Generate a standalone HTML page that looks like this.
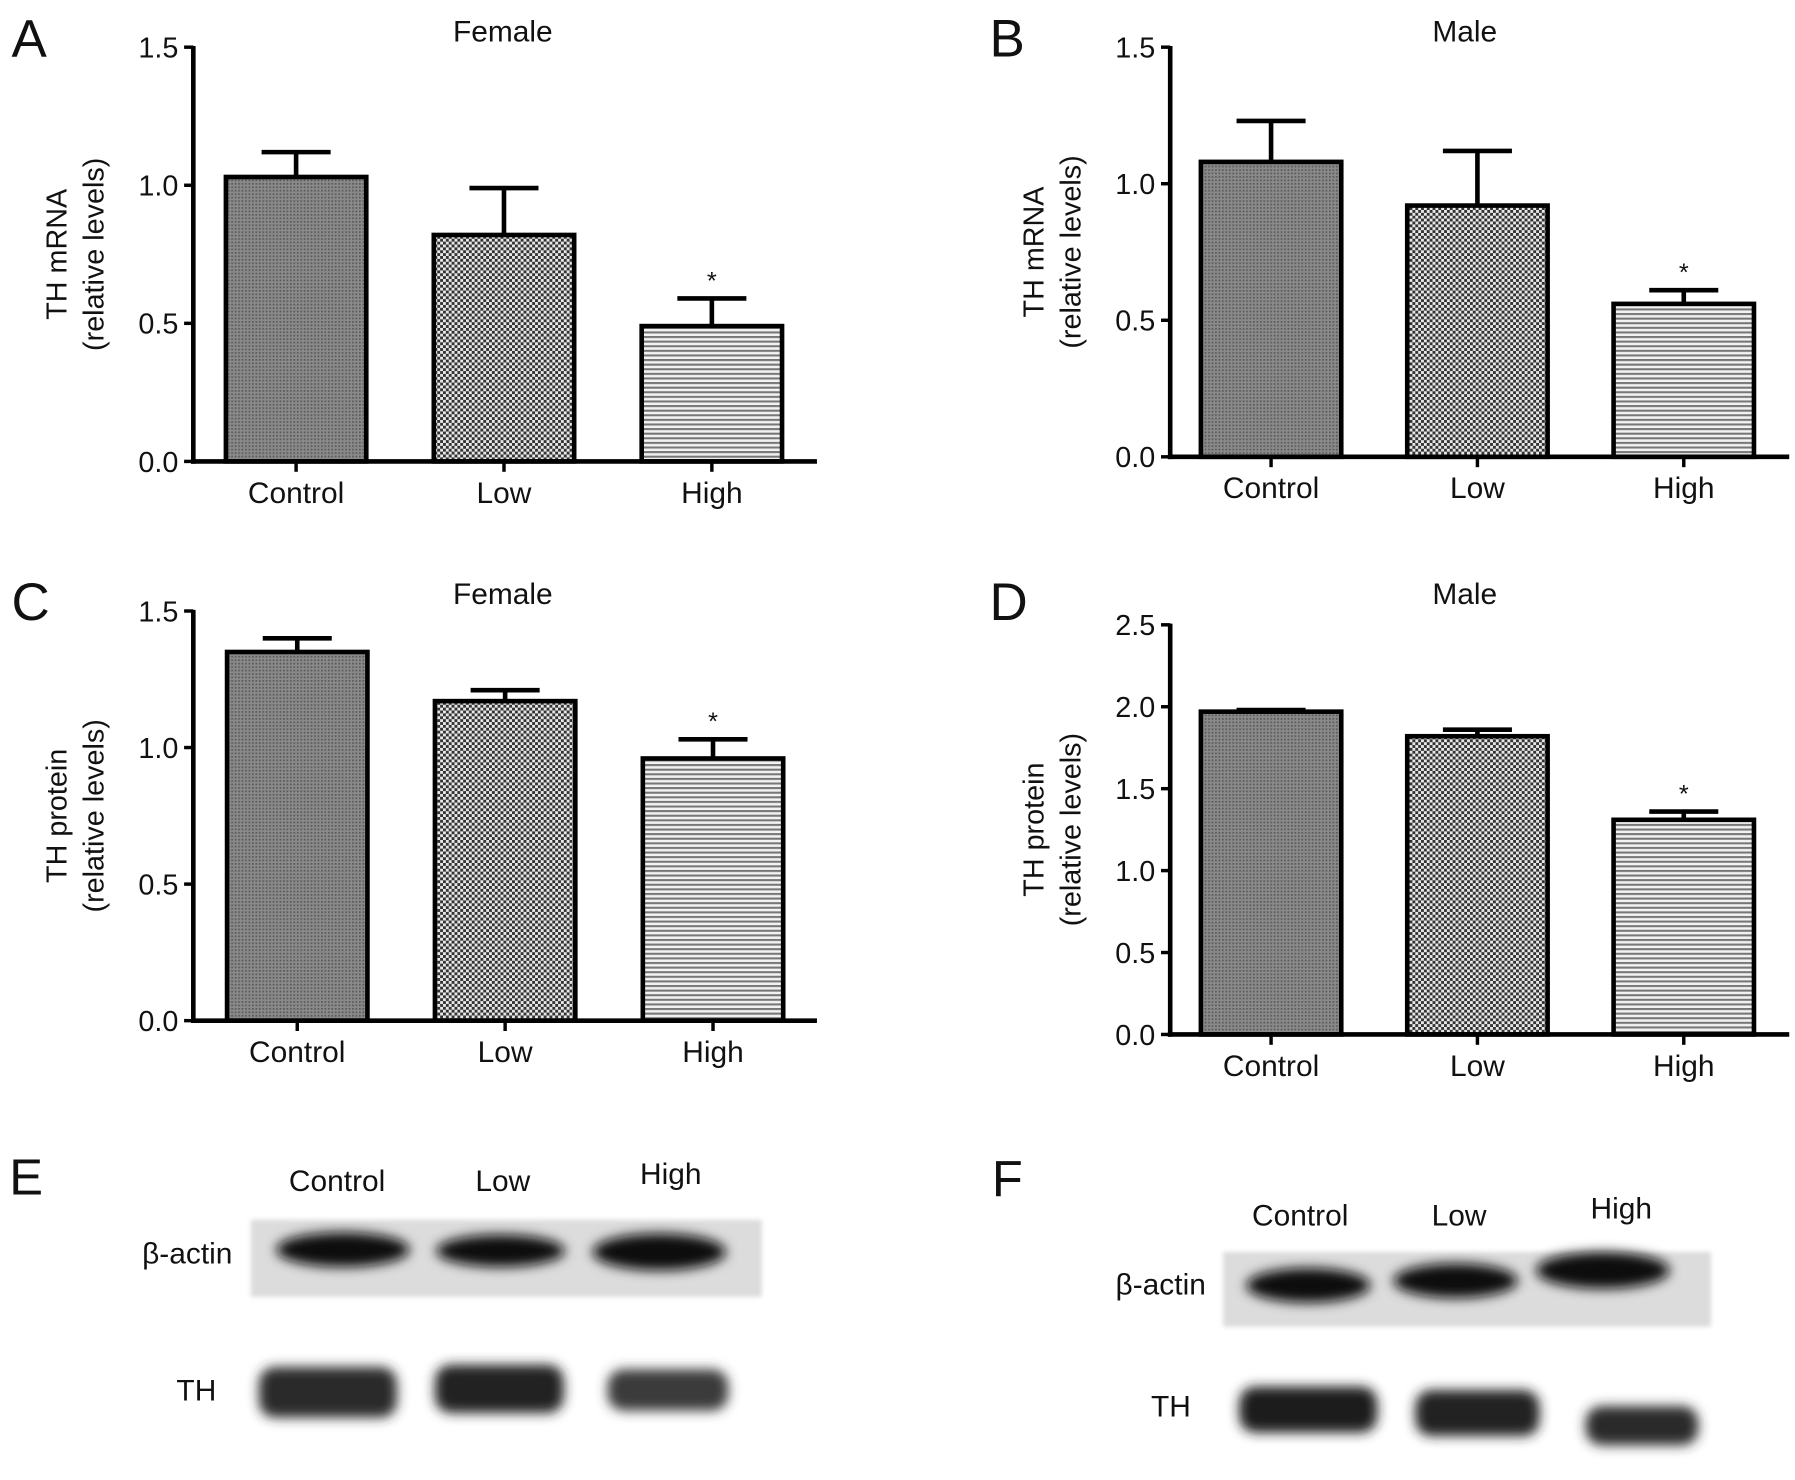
<!DOCTYPE html>
<html><head><meta charset="utf-8"><style>
html,body{margin:0;padding:0;background:#fff}
svg{display:block}
text{font-family:"Liberation Sans",sans-serif;fill:#111}
</style></head><body>
<svg id="fig" width="1795" height="1480" viewBox="0 0 1560 1286.2" preserveAspectRatio="none" xmlns="http://www.w3.org/2000/svg">
<defs>
<pattern id="pCtrl" width="3" height="3" patternUnits="userSpaceOnUse"><rect width="3" height="3" fill="#8a8a8a"/><rect width="1.5" height="1.5" fill="#5a5a5a"/></pattern>
<pattern id="pLow" width="5" height="5" patternUnits="userSpaceOnUse"><rect width="5" height="5" fill="#e8e8e8"/><rect width="2.5" height="2.5" fill="#333"/><rect x="2.5" y="2.5" width="2.5" height="2.5" fill="#333"/></pattern>
<pattern id="pHigh" width="4" height="4" patternUnits="userSpaceOnUse"><rect width="4" height="4" fill="#f2f2f2"/><rect width="4" height="1.8" fill="#777"/></pattern>
<filter id="blur" x="-30%" y="-60%" width="160%" height="220%"><feGaussianBlur stdDeviation="5"/></filter>
<filter id="blur2" x="-10%" y="-30%" width="120%" height="160%"><feGaussianBlur stdDeviation="2"/></filter>
</defs>
<g id="charts"></g>
<g id="blots">
<text x="8" y="1038" font-size="44">E</text>
<text x="293" y="1035" font-size="26" text-anchor="middle">Control</text>
<text x="437" y="1035" font-size="26" text-anchor="middle">Low</text>
<text x="583" y="1029" font-size="26" text-anchor="middle">High</text>
<text x="202" y="1098" font-size="26" text-anchor="end">β-actin</text>
<text x="188" y="1217" font-size="26" text-anchor="end">TH</text>
<rect x="218" y="1060" width="444" height="67" fill="#dcdcdc" filter="url(#blur2)"/>
<g filter="url(#blur)" fill="#111">
<ellipse cx="298" cy="1086" rx="58" ry="15"/><ellipse cx="435" cy="1087" rx="56" ry="14"/><ellipse cx="573" cy="1088" rx="58" ry="16"/>
<rect x="225" y="1188" width="120" height="44" rx="14" fill="#2a2a2a"/><rect x="378" y="1186" width="112" height="42" rx="14" fill="#222"/><rect x="528" y="1190" width="105" height="36" rx="14" fill="#3a3a3a"/>
</g>
<text x="862" y="1040" font-size="44">F</text>
<text x="1130" y="1065" font-size="26" text-anchor="middle">Control</text>
<text x="1268" y="1065" font-size="26" text-anchor="middle">Low</text>
<text x="1409" y="1059" font-size="26" text-anchor="middle">High</text>
<text x="1048" y="1125" font-size="26" text-anchor="end">β-actin</text>
<text x="1035" y="1231" font-size="26" text-anchor="end">TH</text>
<rect x="1063" y="1088" width="424" height="65" fill="#dcdcdc" filter="url(#blur2)"/>
<g filter="url(#blur)" fill="#111">
<ellipse cx="1137" cy="1117" rx="54" ry="15"/><ellipse cx="1265" cy="1113" rx="54" ry="15"/><ellipse cx="1393" cy="1104" rx="58" ry="16"/>
<rect x="1077" y="1205" width="120" height="40" rx="14" fill="#1c1c1c"/><rect x="1230" y="1208" width="108" height="40" rx="14" fill="#222"/><rect x="1378" y="1222" width="98" height="34" rx="14" fill="#2a2a2a"/>
</g>
</g>
</svg>
<script>
const groups = ["Control","Low","High"];
const meansA = [1.03,0.82,0.49];
const errA = [1.12,0.99,0.59];
const meansB = [1.08,0.92,0.56];
const errB = [1.23,1.12,0.61];
const meansC = [1.35,1.17,0.96];
const errC = [1.40,1.21,1.03];
const meansD = [1.97,1.82,1.31];
const errD = [1.98,1.86,1.36];
const ticksABC = ["0.0","0.5","1.0","1.5"];
const ticksD = ["0.0","0.5","1.0","1.5","2.0","2.5"];
const sig = [false,false,true];

const NS="http://www.w3.org/2000/svg";
const root=document.getElementById('charts');
function mk(tag,attrs,parent){const e=document.createElementNS(NS,tag);for(const k in attrs)e.setAttribute(k,attrs[k]);(parent||root).appendChild(e);return e;}
const fills=["url(#pCtrl)","url(#pLow)","url(#pHigh)"];

function panel(cfg){
  const g=mk('g',{});
  
  
  const tmax=parseFloat(cfg.ticks[cfg.ticks.length-1]);
  const y=v=>cfg.y0-(v/tmax)*(cfg.y0-cfg.yTop);
  const bandW=(cfg.x1-cfg.ax)/3;
  const xc=i=>cfg.ax+bandW*(i+0.5)+cfg.shift;
  const bw=122;
  const L=mk('text',{x:cfg.lx,y:cfg.ly,'font-size':46},g);L.textContent=cfg.id.toUpperCase();
  
  
  const T=mk('text',{x:cfg.tx,y:cfg.ty,'font-size':26,'text-anchor':'middle'},g);T.textContent=cfg.title;
  
  
  const cy=(cfg.yTop+cfg.y0)/2;
  const yl=mk('text',{transform:`translate(${cfg.ax-110},${cy}) rotate(-90)`,'font-size':25,'text-anchor':'middle'},g);
  
  
  const t1=mk('tspan',{x:0,dy:0},yl);t1.textContent=cfg.ylabel;
  const t2=mk('tspan',{x:0,dy:32},yl);t2.textContent="(relative levels)";
  cfg.means.forEach((m,i)=>{
    const cx=xc(i);
    const e=mk('line',{x1:cx,x2:cx,y1:y(m),y2:y(cfg.err[i]),stroke:'#000','stroke-width':4},g);
    
    
    const c=mk('line',{x1:cx-30,x2:cx+30,y1:y(cfg.err[i]),y2:y(cfg.err[i]),stroke:'#000','stroke-width':4},g);
    
    
    const r=mk('rect',{x:cx-bw/2,y:y(m),width:bw,height:cfg.y0-y(m),fill:fills[i],stroke:'#000','stroke-width':4},g);
    
    
    if(sig[i]){const s=mk('text',{x:cx,y:y(cfg.err[i])-8,'font-size':22,'text-anchor':'middle'},g);s.textContent='*';
      
      }
    const tk=mk('line',{x1:cx,x2:cx,y1:cfg.y0,y2:cfg.y0+9,stroke:'#000','stroke-width':3},g);
    
    
    const xl=mk('text',{x:cx,y:cfg.y0+36,'font-size':26,'text-anchor':'middle'},g);xl.textContent=groups[i];
    
    
  });
  const ya=mk('line',{x1:cfg.ax,x2:cfg.ax,y1:cfg.yTop-1,y2:cfg.y0+2,stroke:'#000','stroke-width':4},g);
  
  
  const xa=mk('line',{x1:cfg.ax-2,x2:cfg.x1,y1:cfg.y0,y2:cfg.y0,stroke:'#000','stroke-width':4},g);
  
  
  cfg.ticks.forEach(t=>{
    const v=parseFloat(t);
    const tl=mk('line',{x1:cfg.ax-8,x2:cfg.ax,y1:y(v),y2:y(v),stroke:'#000','stroke-width':3},g);
    
    
    const tt=mk('text',{x:cfg.ax-13,y:y(v)+9,'font-size':25,'text-anchor':'end'},g);tt.textContent=t;
    
    
  });
}
panel({id:'a',title:'Female',ylabel:'TH mRNA',means:meansA,err:errA,ticks:ticksABC,ax:168,x1:710,yTop:41,y0:401,lx:10,ly:49,tx:437,ty:36,shift:-1});
panel({id:'b',title:'Male',ylabel:'TH mRNA',means:meansB,err:errB,ticks:ticksABC,ax:1017,x1:1555,yTop:41,y0:397,lx:860,ly:49,tx:1273,ty:36,shift:-2});
panel({id:'c',title:'Female',ylabel:'TH protein',means:meansC,err:errC,ticks:ticksABC,ax:168,x1:710,yTop:531,y0:887,lx:10,ly:539,tx:437,ty:525,shift:0});
panel({id:'d',title:'Male',ylabel:'TH protein',means:meansD,err:errD,ticks:ticksD,ax:1017,x1:1555,yTop:543,y0:899,lx:860,ly:539,tx:1273,ty:525,shift:-2});
</script>
</body></html>
